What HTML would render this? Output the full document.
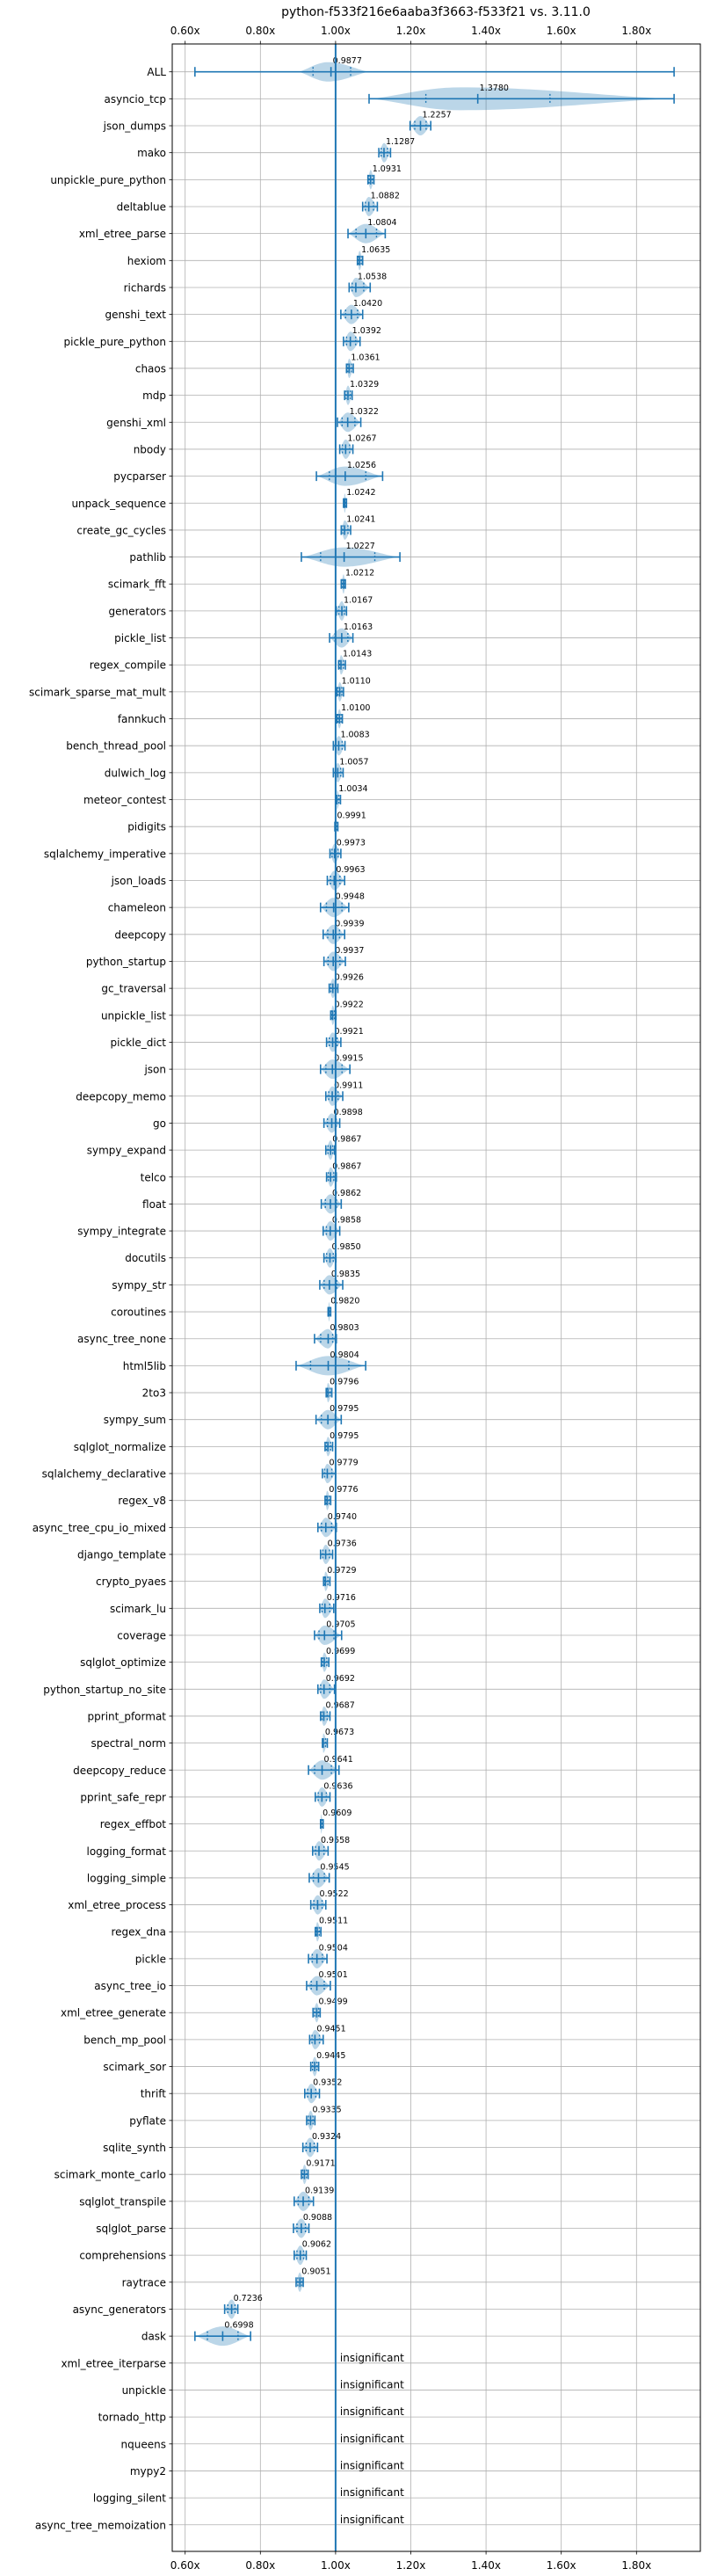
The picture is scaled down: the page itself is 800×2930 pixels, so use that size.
<!DOCTYPE html>
<html><head><meta charset="utf-8"><style>
html,body{margin:0;padding:0;background:#fff;}
svg{display:block;font-family:"DejaVu Sans","Liberation Sans",sans-serif;}
</style></head><body>
<svg id="chart" width="800" height="2930" viewBox="0 0 800 2930" xmlns="http://www.w3.org/2000/svg">
<text x="496" y="18" font-size="14" text-anchor="middle" fill="#000">python-f533f216e6aaba3f3663-f533f21 vs. 3.11.0</text>
</svg>
<script>
const benchmarks = ["ALL","asyncio_tcp","json_dumps","mako","unpickle_pure_python","deltablue","xml_etree_parse","hexiom","richards","genshi_text","pickle_pure_python","chaos","mdp","genshi_xml","nbody","pycparser","unpack_sequence","create_gc_cycles","pathlib","scimark_fft","generators","pickle_list","regex_compile","scimark_sparse_mat_mult","fannkuch","bench_thread_pool","dulwich_log","meteor_contest","pidigits","sqlalchemy_imperative","json_loads","chameleon","deepcopy","python_startup","gc_traversal","unpickle_list","pickle_dict","json","deepcopy_memo","go","sympy_expand","telco","float","sympy_integrate","docutils","sympy_str","coroutines","async_tree_none","html5lib","2to3","sympy_sum","sqlglot_normalize","sqlalchemy_declarative","regex_v8","async_tree_cpu_io_mixed","django_template","crypto_pyaes","scimark_lu","coverage","sqlglot_optimize","python_startup_no_site","pprint_pformat","spectral_norm","deepcopy_reduce","pprint_safe_repr","regex_effbot","logging_format","logging_simple","xml_etree_process","regex_dna","pickle","async_tree_io","xml_etree_generate","bench_mp_pool","scimark_sor","thrift","pyflate","sqlite_synth","scimark_monte_carlo","sqlglot_transpile","sqlglot_parse","comprehensions","raytrace","async_generators","dask","xml_etree_iterparse","unpickle","tornado_http","nqueens","mypy2","logging_silent","async_tree_memoization"];
const medians = [0.9877,1.3780,1.2257,1.1287,1.0931,1.0882,1.0804,1.0635,1.0538,1.0420,1.0392,1.0361,1.0329,1.0322,1.0267,1.0256,1.0242,1.0241,1.0227,1.0212,1.0167,1.0163,1.0143,1.0110,1.0100,1.0083,1.0057,1.0034,0.9991,0.9973,0.9963,0.9948,0.9939,0.9937,0.9926,0.9922,0.9921,0.9915,0.9911,0.9898,0.9867,0.9867,0.9862,0.9858,0.9850,0.9835,0.9820,0.9803,0.9804,0.9796,0.9795,0.9795,0.9779,0.9776,0.9740,0.9736,0.9729,0.9716,0.9705,0.9699,0.9692,0.9687,0.9673,0.9641,0.9636,0.9609,0.9558,0.9545,0.9522,0.9511,0.9504,0.9501,0.9499,0.9451,0.9445,0.9352,0.9335,0.9324,0.9171,0.9139,0.9088,0.9062,0.9051,0.7236,0.6998];
const mins = [0.626,1.089,1.198,1.115,1.086,1.072,1.033,1.058,1.036,1.014,1.021,1.029,1.024,1.005,1.011,0.949,1.021,1.015,0.909,1.015,1.002,0.984,1.008,1.003,1.003,0.994,0.994,1.003,0.998,0.985,0.978,0.960,0.967,0.969,0.983,0.987,0.976,0.960,0.974,0.969,0.974,0.976,0.962,0.967,0.969,0.958,0.980,0.944,0.895,0.975,0.948,0.972,0.965,0.972,0.953,0.960,0.968,0.958,0.944,0.962,0.953,0.960,0.965,0.928,0.946,0.960,0.939,0.930,0.934,0.946,0.928,0.923,0.940,0.931,0.934,0.918,0.923,0.913,0.909,0.890,0.888,0.890,0.895,0.705,0.626];
const maxs = [1.900,1.900,1.253,1.146,1.102,1.111,1.132,1.072,1.092,1.072,1.065,1.047,1.044,1.067,1.046,1.125,1.029,1.040,1.171,1.026,1.029,1.046,1.026,1.021,1.018,1.025,1.020,1.013,1.006,1.014,1.024,1.035,1.024,1.026,1.006,1.001,1.014,1.038,1.019,1.011,0.997,1.002,1.015,1.011,1.001,1.019,0.987,1.002,1.080,0.990,1.015,0.992,1.000,0.987,1.002,0.992,0.985,0.995,1.016,0.982,0.997,0.985,0.978,1.009,0.985,0.967,0.980,0.983,0.974,0.961,0.977,0.986,0.959,0.967,0.955,0.957,0.945,0.952,0.927,0.941,0.929,0.922,0.914,0.740,0.774];
// violin body extents (density support), where different from whiskers
const violinLo = [0.900,1.089];
const violinHi = [1.090,1.900];
const violinPeak = [0.980,1.330];
const q1s = [0.940,1.240];
const q3s = [1.040,1.570];
const xTicks = [0.6,0.8,1.0,1.2,1.4,1.6,1.8];
const xTickLabels = ["0.60x","0.80x","1.00x","1.20x","1.40x","1.60x","1.80x"];

const svg = document.getElementById('chart');
const NS = "http://www.w3.org/2000/svg";
const L = 196, R = 797, T = 50, B = 2902;
const X0 = 0.6, XPX0 = 210.7, PPU = 428;
function xs(v){ return XPX0 + (v - X0) * PPU; }
const ROW0 = 81.7, ROWH = 30.66;
function ys(i){ return ROW0 + i * ROWH; }
function mk(tag, attrs, parent){ const e = document.createElementNS(NS, tag); for (const k in attrs) e.setAttribute(k, attrs[k]); (parent||svg).appendChild(e); return e; }
const BLUE = "#1f77b4";

const grid = mk('g', {});


xTicks.forEach((t, i) => {
  const x = xs(t);
  const gl = mk('line', {x1:x, x2:x, y1:T, y2:B, stroke:"#b0b0b0", "stroke-width":0.8}, grid);
  
  
  mk('line', {x1:x, x2:x, y1:T, y2:T-3.5, stroke:"#000", "stroke-width":0.8}, grid);
  mk('line', {x1:x, x2:x, y1:B, y2:B+3.5, stroke:"#000", "stroke-width":0.8}, grid);
  const tt = mk('text', {x:x, y:T-11, "font-size":12, "text-anchor":"middle", fill:"#000"});
  tt.textContent = xTickLabels[i];
  
  
  const tb = mk('text', {x:x, y:B+20, "font-size":12, "text-anchor":"middle", fill:"#000"});
  tb.textContent = xTickLabels[i];
  
  
});
benchmarks.forEach((b, i) => {
  const y = ys(i);
  const gl = mk('line', {x1:L, x2:R, y1:y, y2:y, stroke:"#b0b0b0", "stroke-width":0.8}, grid);
  
  
  mk('line', {x1:L, x2:L-3.5, y1:y, y2:y, stroke:"#000", "stroke-width":0.8}, grid);
  const lt = mk('text', {x:L-7, y:y+4.5, "font-size":12, "text-anchor":"end", fill:"#000"});
  lt.textContent = b;
  
  
});

const marks = mk('g', {});


medians.forEach((m, i) => {
  const y = ys(i), a = xs(mins[i]), b = xs(maxs[i]), mx = xs(m);
  const va = xs(violinLo[i] !== undefined ? violinLo[i] : mins[i]);
  const vb = xs(violinHi[i] !== undefined ? violinHi[i] : maxs[i]);
  const vp = xs(violinPeak[i] !== undefined ? violinPeak[i] : m);
  const h = i === 1 ? 13 : 11;
  const g = mk('g', {}, marks);
  
  
  let top = [], bot = [];
  const N = 40;
  for (let k = 0; k <= N; k++) {
    const t = k / N;
    const x = va + (vb - va) * t;
    const rel = x < vp ? (x - va) / Math.max(vp - va, 0.5) : (vb - x) / Math.max(vb - vp, 0.5);
    const w = h * Math.pow(Math.sin(Math.PI / 2 * Math.min(1, Math.max(0, rel))), 1.4);
    top.push(x.toFixed(1) + "," + (y - w).toFixed(1));
    bot.unshift(x.toFixed(1) + "," + (y + w).toFixed(1));
  }
  const body = mk('polygon', {points: top.concat(bot).join(" "), fill: BLUE, "fill-opacity": 0.3}, g);
  
  
  mk('line', {x1:a, x2:b, y1:y, y2:y, stroke:BLUE, "stroke-width":1.6}, g);
  [a, b, mx].forEach(x => mk('line', {x1:x, x2:x, y1:y-5.5, y2:y+5.5, stroke:BLUE, "stroke-width":1.6}, g));
  const q1 = q1s[i] !== undefined ? xs(q1s[i]) : mx - (mx - a) * 0.55;
  const q3 = q3s[i] !== undefined ? xs(q3s[i]) : mx + (b - mx) * 0.55;
  [q1, q3].forEach(x => mk('line', {x1:x, x2:x, y1:y-5.5, y2:y+5.5, stroke:BLUE, "stroke-width":1.4, "stroke-dasharray":"2,2"}, g));
  const vt = mk('text', {x:mx+2, y:y-9.5, "font-size":9.5, fill:"#000"}, g);
  vt.textContent = m.toFixed(4);
  
  
});
for (let i = medians.length; i < benchmarks.length; i++) {
  const y = ys(i);
  const t = mk('text', {x:xs(1.0)+5, y:y-2, "font-size":12, fill:"#000"});
  t.textContent = "insignificant";
  
  
}
const ref = mk('line', {x1:xs(1.0), x2:xs(1.0), y1:T, y2:B, stroke:BLUE, "stroke-width":2});


const fr = mk('rect', {x:L, y:T, width:R-L, height:B-T, fill:"none", stroke:"#000", "stroke-width":1});


</script>
</body></html>
